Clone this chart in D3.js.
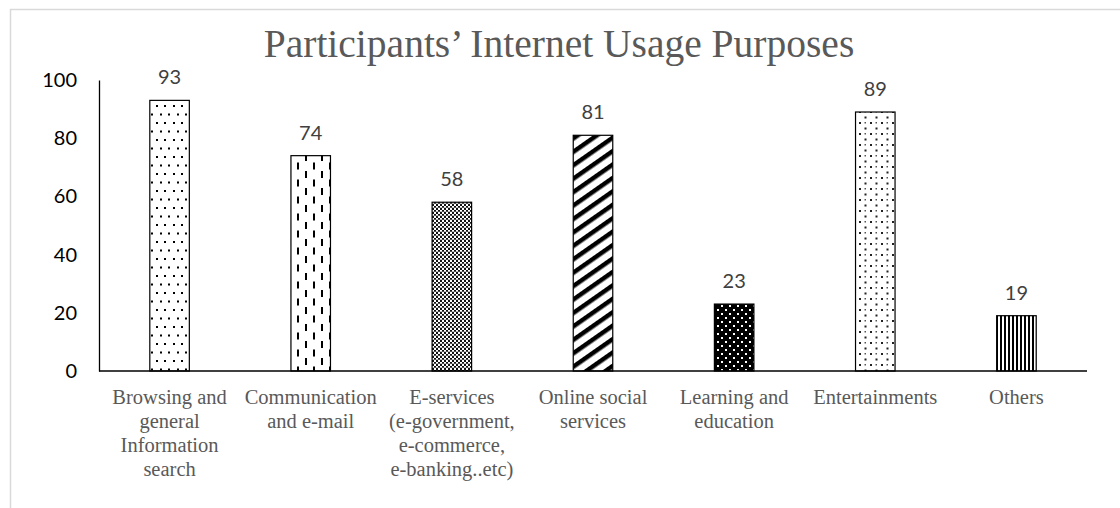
<!DOCTYPE html>
<html>
<head>
<meta charset="utf-8">
<script src="https://cdn.jsdelivr.net/npm/d3@7"></script>
<style>
  html, body { margin: 0; padding: 0; background: #fff; }
  svg { display: block; }
</style>
</head>
<body>
<svg id="chart" width="1120" height="508"></svg>
<script>
// Internet usage purposes and the number of participants for each
const categories = [
  ["Browsing and", "general", "Information", "search"],
  ["Communication", "and e-mail"],
  ["E-services", "(e-government,", "e-commerce,", "e-banking..etc)"],
  ["Online social", "services"],
  ["Learning and", "education"],
  ["Entertainments"],
  ["Others"]
];
const values = [93, 74, 58, 81, 23, 89, 19];
const yTicks = [0, 20, 40, 60, 80, 100];
const patternIds = ["p-dots", "p-dash", "p-check", "p-diag", "p-darkdots", "p-finedots", "p-vlines"];
const title = "Participants\u2019 Internet Usage Purposes";

const svg = d3.select("#chart");
const W = 1120, H = 508;
const margin = { left: 99, right: 33, top: 80, bottom: 137 };

// Hatch fills for the bars
const defs = svg.append("defs");

function pat(id, w, h) {
  return defs.append("pattern").attr("id", id)
    .attr("patternUnits", "userSpaceOnUse").attr("width", w).attr("height", h);
}
function dot(p, x, y, w, h, c) {
  p.append("rect").attr("x", x).attr("y", y).attr("width", w).attr("height", h).attr("fill", c);
}

// 1: sparse staggered dots
{
  const p = pat("p-dots", 17, 17);
  dot(p, 0, 0, 17, 17, "#fff");
  dot(p, 3, 3, 2, 2, "#000");
  dot(p, 11, 3, 2, 2, "#000");
  dot(p, 7, 11.5, 2, 2, "#000");
  dot(p, 15, 11.5, 2, 2, "#000");
}
// 2: staggered vertical dashes
{
  const p = pat("p-dash", 16, 17);
  dot(p, 0, 0, 16, 17, "#fff");
  dot(p, 1, 1, 2, 7, "#000");
  dot(p, 9, 9.5, 2, 7, "#000");
}
// 3: fine checkerboard
{
  const p = pat("p-check", 4, 4);
  dot(p, 0, 0, 4, 4, "#fff");
  dot(p, 0, 0, 2, 2, "#111");
  dot(p, 2, 2, 2, 2, "#111");
  dot(p, 0, 3.5, 4, 0.5, "#888");
}
// 4: wide upward diagonal stripes
{
  const p = pat("p-diag", 11, 11).attr("patternTransform", "rotate(-35)");
  dot(p, 0, 0, 11, 11, "#fff");
  dot(p, 0, 0, 11, 4.5, "#000");
}
// 5: light dots on black
{
  const p = pat("p-darkdots", 8, 8);
  dot(p, 0, 0, 8, 8, "#000");
  dot(p, 1, 1, 2, 2, "#fff");
  dot(p, 5, 5, 2, 2, "#fff");
}
// 6: denser staggered dots
{
  const p = pat("p-finedots", 11, 11);
  dot(p, 0, 0, 11, 11, "#fff");
  dot(p, 1, 1, 2, 2, "#222");
  dot(p, 6.5, 6.5, 2, 2, "#222");
  dot(p, 6.5, 1, 1.5, 1.5, "#555");
}
// 7: narrow vertical lines
{
  const p = pat("p-vlines", 4, 4);
  dot(p, 0, 0, 4, 4, "#fff");
  dot(p, 0, 0, 2, 4, "#000");
}

// Outer chart frame
svg.append("rect")
  .attr("x", 10.5).attr("y", 9.5).attr("width", W).attr("height", H)
  .attr("fill", "#fff").attr("stroke", "#d9d9d9").attr("stroke-width", 1.5);

const x = d3.scaleBand()
  .domain(d3.range(values.length))
  .range([margin.left, W - margin.right])
  .paddingInner(0.72).paddingOuter(0.36);

const y = d3.scaleLinear()
  .domain([0, 100])
  .range([H - margin.bottom, margin.top]);

// Y axis
const yAxis = svg.append("g")
  .attr("transform", `translate(${margin.left},0)`)
  .call(d3.axisLeft(y).tickValues(yTicks).tickSize(0).tickPadding(22));
yAxis.select(".domain").attr("stroke", "#000").attr("stroke-width", 1.3);
yAxis.selectAll("text")
  .attr("font-family", "Lato, 'Open Sans', sans-serif")
  .attr("font-size", 20).attr("fill", "#000");

// Bars
svg.append("g").selectAll("rect")
  .data(values)
  .join("rect")
  .attr("x", (d, i) => x(i))
  .attr("y", d => y(d))
  .attr("width", x.bandwidth())
  .attr("height", d => y(0) - y(d))
  .attr("fill", (d, i) => `url(#${patternIds[i]})`)
  .attr("stroke", "#000").attr("stroke-width", 1.2);

// X axis line
svg.append("line")
  .attr("x1", margin.left).attr("x2", W - margin.right)
  .attr("y1", y(0)).attr("y2", y(0))
  .attr("stroke", "#000").attr("stroke-width", 1.3);

// Value labels
svg.append("g").selectAll("text")
  .data(values)
  .join("text")
  .attr("x", (d, i) => x(i) + x.bandwidth() / 2)
  .attr("y", d => y(d) - 16)
  .attr("text-anchor", "middle")
  .attr("font-family", "Lato, 'Open Sans', sans-serif")
  .attr("font-size", 20).attr("fill", "#404040")
  .text(d => d);

// Category labels
const cat = svg.append("g").selectAll("text")
  .data(categories)
  .join("text")
  .attr("x", (d, i) => x(i) + x.bandwidth() / 2)
  .attr("y", y(0) + 33)
  .attr("text-anchor", "middle")
  .attr("font-family", "'Liberation Serif', 'Times New Roman', serif")
  .attr("font-size", 20.5).attr("fill", "#595959");
cat.each(function(lines) {
  const t = d3.select(this);
  const cx = t.attr("x");
  lines.forEach((ln, k) => {
    t.append("tspan").attr("x", cx).attr("dy", k === 0 ? 0 : 24).text(ln);
  });
});

// Title
svg.append("text")
  .attr("x", 559).attr("y", 57)
  .attr("text-anchor", "middle")
  .attr("font-family", "'Liberation Serif', 'Times New Roman', serif")
  .attr("font-size", 39.5).attr("fill", "#595959")
  .text(title);
</script>
</body>
</html>
